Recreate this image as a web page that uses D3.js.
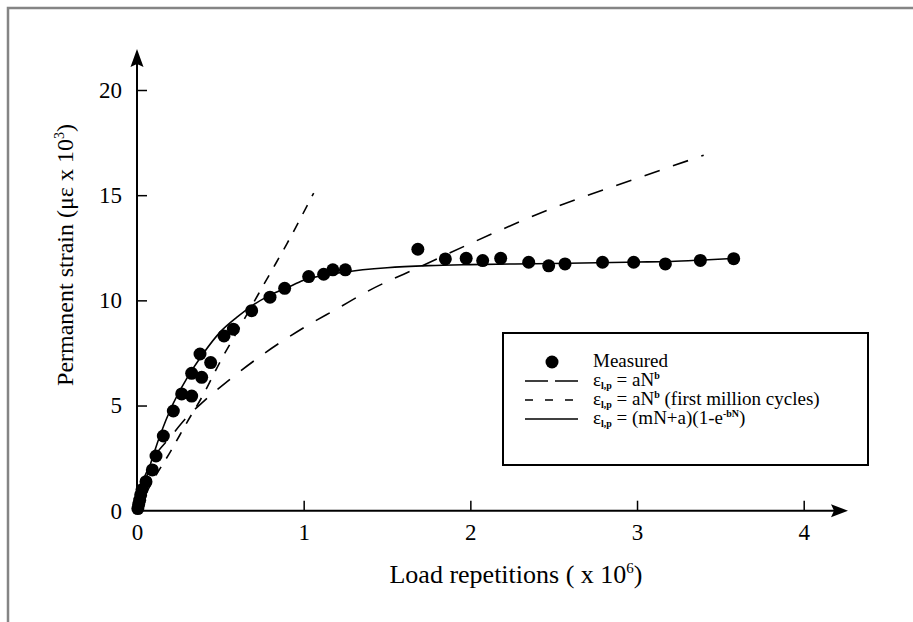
<!DOCTYPE html>
<html>
<head>
<meta charset="utf-8">
<script src="https://cdn.jsdelivr.net/npm/d3@7"></script>
<style>
  body { margin: 0; background: #fff; }
  svg text { font-family: "Liberation Serif", "Times New Roman", serif; fill: #000; }
</style>
</head>
<body>
<svg id="chart" width="913" height="622"></svg>
<script>
// measured permanent strain (x 10^3 microstrain) vs load repetitions (x 10^6)
const measuredN = [0.005, 0.010, 0.016, 0.022, 0.030, 0.054, 0.092, 0.114, 0.158, 0.218,
  0.268, 0.328, 0.328, 0.388, 0.378, 0.442, 0.522, 0.578, 0.688, 0.798, 0.886,
  1.03, 1.12, 1.175, 1.25, 1.685, 1.85, 1.975, 2.074, 2.182, 2.35, 2.47, 2.568,
  2.793, 2.98, 3.17, 3.38, 3.58];
const measuredStrain = [0.1, 0.3, 0.5, 0.75, 1.0, 1.38, 1.94, 2.6, 3.55, 4.74,
  5.55, 5.45, 6.53, 6.34, 7.45, 7.04, 8.31, 8.63, 9.51, 10.15, 10.57,
  11.13, 11.24, 11.45, 11.45, 12.43, 11.97, 12.0, 11.89, 12.0, 11.81, 11.64, 11.73,
  11.81, 11.81, 11.73, 11.9, 11.98];

// eps = aN^b fitted to all cycles (long dashes)
const fitAllN      = [0, 0.02, 0.05, 0.1, 0.2, 0.3, 0.4, 0.55, 0.75, 1.0, 1.2, 1.4, 1.7, 2.0, 2.5, 3.0, 3.4];
const fitAllStrain = [0, 1.1, 1.7, 2.5, 3.5, 4.45, 5.2, 6.2, 7.4, 8.7, 9.6, 10.5, 11.6, 12.7, 14.4, 15.8, 16.9];

// eps = aN^b fitted to first million cycles (short dashes)
const fitFirstN      = [0, 0.1, 0.2, 0.3, 0.4, 0.5, 0.6, 0.7, 0.8, 0.9, 1.06];
const fitFirstStrain = [0, 1.5, 2.8, 4.2, 5.55, 7.1, 8.5, 9.9, 11.3, 12.7, 15.1];

// eps = (mN+a)(1-e^-bN) (solid)
const fitExpN      = [0, 0.05, 0.1, 0.2, 0.3, 0.4, 0.5, 0.6, 0.7, 0.8, 0.9, 1.0, 1.25, 1.5, 1.75, 2.0, 2.5, 3.0, 3.2, 3.4, 3.6];
const fitExpStrain = [0, 1.4, 2.7, 4.8, 6.3, 7.5, 8.5, 9.2, 9.8, 10.25, 10.6, 10.95, 11.35, 11.55, 11.65, 11.7, 11.75, 11.82, 11.85, 11.92, 12.0];

const xTicks = [0, 1, 2, 3, 4];
const yTicks = [0, 5, 10, 15, 20];

const svg = d3.select("#chart");

// outer frame (grey, top and left edges visible)
svg.append("path")
  .attr("d", "M8,622 V8 H913")
  .attr("fill", "none")
  .attr("stroke", "#858585")
  .attr("stroke-width", 2.5);

const x = d3.scaleLinear().domain([0, 4]).range([137, 803.7]);
const y = d3.scaleLinear().domain([0, 20]).range([510.7, 90]);

// axes
const xAxisG = svg.append("g")
  .attr("transform", `translate(0,${y(0)})`)
  .call(d3.axisBottom(x).tickValues(xTicks).tickFormat(d3.format("d"))
    .tickSizeInner(-10).tickSizeOuter(0).tickPadding(13));
const yAxisG = svg.append("g")
  .attr("transform", `translate(${x(0)},0)`)
  .call(d3.axisLeft(y).tickValues(yTicks).tickFormat(d3.format("d"))
    .tickSizeInner(-10).tickSizeOuter(0).tickPadding(15));

[xAxisG, yAxisG].forEach(g => {
  g.select(".domain").remove();
  g.selectAll(".tick line").attr("stroke", "#000").attr("stroke-width", 1.5);
  g.selectAll(".tick text")
    .style("font-family", "'Liberation Serif', serif")
    .style("font-size", "23px")
    .attr("fill", "#000");
});
xAxisG.selectAll(".tick").filter(d => d === 0).select("line").remove();
yAxisG.selectAll(".tick").filter(d => d === 0).select("line").remove();

// axis lines with arrow heads
svg.append("line")
  .attr("x1", x(0)).attr("x2", 836)
  .attr("y1", y(0)).attr("y2", y(0))
  .attr("stroke", "#000").attr("stroke-width", 2);
svg.append("path")
  .attr("d", `M848,${y(0)} L831,${y(0) - 6.5} L834,${y(0)} L831,${y(0) + 6.5} Z`)
  .attr("fill", "#000");

svg.append("line")
  .attr("x1", x(0)).attr("x2", x(0))
  .attr("y1", y(0)).attr("y2", 62)
  .attr("stroke", "#000").attr("stroke-width", 2);
svg.append("path")
  .attr("d", `M${x(0)},49 L${x(0) - 6.5},67 L${x(0)},64 L${x(0) + 6.5},67 Z`)
  .attr("fill", "#000");

// axis titles
const xTitle = svg.append("text")
  .attr("x", 516).attr("y", 583)
  .attr("text-anchor", "middle")
  .style("font-size", "26px");
xTitle.append("tspan").text("Load repetitions ( x 10");
xTitle.append("tspan").attr("dy", -10).style("font-size", "15px").text("6");
xTitle.append("tspan").attr("dy", 10).text(")");

const yTitle = svg.append("text")
  .attr("transform", "translate(73,255) rotate(-90)")
  .attr("text-anchor", "middle")
  .style("font-size", "24px");
yTitle.append("tspan").text("Permanent strain (\u03bc\u03b5 x 10");
yTitle.append("tspan").attr("dy", -9).style("font-size", "14px").text("3");
yTitle.append("tspan").attr("dy", 9).text(")");

// fitted curves
const line = (xs, ys) => d3.line()
  .x(i => x(xs[i]))
  .y(i => y(ys[i]))
  .curve(d3.curveMonotoneX)(d3.range(xs.length));

svg.append("path")
  .attr("d", line(fitAllN, fitAllStrain))
  .attr("fill", "none").attr("stroke", "#000")
  .attr("stroke-width", 1.6).attr("stroke-dasharray", "16,14");

svg.append("path")
  .attr("d", line(fitFirstN, fitFirstStrain))
  .attr("fill", "none").attr("stroke", "#000")
  .attr("stroke-width", 1.6).attr("stroke-dasharray", "10,10");

svg.append("path")
  .attr("d", line(fitExpN, fitExpStrain))
  .attr("fill", "none").attr("stroke", "#000")
  .attr("stroke-width", 1.6);

// measured points
svg.append("g").selectAll("circle")
  .data(d3.range(measuredN.length))
  .enter().append("circle")
  .attr("cx", i => x(measuredN[i]))
  .attr("cy", i => y(measuredStrain[i]))
  .attr("r", 6.5)
  .attr("fill", "#000");

// legend
const legend = svg.append("g").attr("transform", "translate(503,333)");
legend.append("rect")
  .attr("width", 365).attr("height", 132)
  .attr("fill", "#fff").attr("stroke", "#000").attr("stroke-width", 2);

const rowY = [29, 48, 67, 86];

legend.append("circle").attr("cx", 49).attr("cy", rowY[0]).attr("r", 6.5).attr("fill", "#000");
legend.append("line").attr("x1", 22).attr("x2", 75).attr("y1", rowY[1]).attr("y2", rowY[1])
  .attr("stroke", "#000").attr("stroke-width", 1.6).attr("stroke-dasharray", "23,7");
legend.append("line").attr("x1", 22).attr("x2", 75).attr("y1", rowY[2]).attr("y2", rowY[2])
  .attr("stroke", "#000").attr("stroke-width", 1.6).attr("stroke-dasharray", "8,12");
legend.append("line").attr("x1", 22).attr("x2", 75).attr("y1", rowY[3]).attr("y2", rowY[3])
  .attr("stroke", "#000").attr("stroke-width", 1.6);

const legendText = (yy) => legend.append("text")
  .attr("x", 90).attr("y", yy + 5)
  .style("font-size", "19px");

legendText(rowY[0]).text("Measured");

function epsLabel(t) {
  t.append("tspan").text("\u03b5");
  t.append("tspan").attr("dy", 3).style("font-size", "10px").style("font-weight", "bold").text("l,p");
  t.append("tspan").attr("dy", -3).text(" = ");
}

const r2 = legendText(rowY[1]);
epsLabel(r2);
r2.append("tspan").text("aN");
r2.append("tspan").attr("dy", -7).style("font-size", "10px").style("font-weight", "bold").text("b");

const r3 = legendText(rowY[2]);
epsLabel(r3);
r3.append("tspan").text("aN");
r3.append("tspan").attr("dy", -7).style("font-size", "10px").style("font-weight", "bold").text("b");
r3.append("tspan").attr("dy", 7).text(" (first million cycles)");

const r4 = legendText(rowY[3]);
epsLabel(r4);
r4.append("tspan").text("(mN+a)(1-e");
r4.append("tspan").attr("dy", -7).style("font-size", "10px").style("font-weight", "bold").text("-bN");
r4.append("tspan").attr("dy", 7).text(")");
</script>
</body>
</html>
